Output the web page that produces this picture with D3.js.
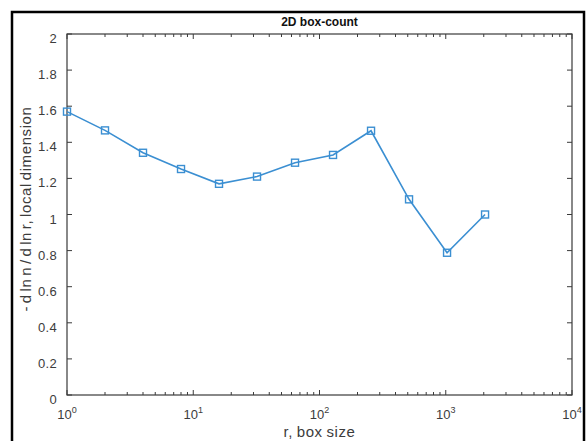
<!DOCTYPE html>
<html>
<head>
<meta charset="utf-8">
<script src="https://cdn.jsdelivr.net/npm/d3@7"></script>
<style>
  body { margin: 0; background: #fff; }
  text { font-family: "Liberation Sans", Arial, sans-serif; }
</style>
</head>
<body>
<div id="chart"></div>
<script>
// data
var boxSize = [1, 2, 4, 8, 16, 32, 64, 128, 256, 512, 1024, 2048];
var localDim = [1.57, 1.466, 1.342, 1.252, 1.17, 1.21, 1.287, 1.33, 1.464, 1.084, 0.788, 1.0];
var yTicks = [0, 0.2, 0.4, 0.6, 0.8, 1, 1.2, 1.4, 1.6, 1.8, 2];
var xDecades = [0, 1, 2, 3, 4];

var W = 586, H = 441;
// plot box (avoid "top", it clashes with window.top)
var pL = 67, pR = 572, pT = 34, pB = 395;
var axisColor = "#3a3a3a";
var textColor = "#3c3c3c";
var lineColor = "#3b8fd2";

var svg = d3.select("#chart").append("svg").attr("width", W).attr("height", H);

// outer frame
svg.append("rect")
    .attr("x", 12).attr("y", 12)
    .attr("width", 572).attr("height", 460)
    .attr("fill", "none").attr("stroke", "#000").attr("stroke-width", 2.5);

var x = d3.scaleLog().domain([1, 10000]).range([pL, pR]);
var y = d3.scaleLinear().domain([0, 2]).range([pB, pT]);

// axes box
svg.append("rect")
    .attr("x", pL).attr("y", pT)
    .attr("width", pR - pL).attr("height", pB - pT)
    .attr("fill", "none").attr("stroke", axisColor).attr("stroke-width", 1.2);

// y ticks inward, left and right
var majorLen = 5, minorLen = 3;
svg.append("g").selectAll("line").data(yTicks).enter().append("line")
    .attr("x1", pL).attr("x2", pL + majorLen)
    .attr("y1", d => y(d)).attr("y2", d => y(d))
    .attr("stroke", axisColor);
svg.append("g").selectAll("line").data(yTicks).enter().append("line")
    .attr("x1", pR).attr("x2", pR - majorLen)
    .attr("y1", d => y(d)).attr("y2", d => y(d))
    .attr("stroke", axisColor);
svg.append("g").selectAll("text").data(yTicks).enter().append("text")
    .attr("x", pL - 10).attr("y", d => y(d) + 9)
    .attr("text-anchor", "end")
    .attr("font-size", 13).attr("letter-spacing", 0.3).attr("fill", textColor)
    .text(d => d3.format("~g")(d));

// x ticks: major decades plus minor
var xMinor = [];
for (var e = 0; e < 4; e++) for (var m = 2; m <= 9; m++) xMinor.push(m * Math.pow(10, e));
var xMajor = xDecades.map(d => Math.pow(10, d));

[[xMajor, majorLen], [xMinor, minorLen]].forEach(function (p) {
    svg.append("g").selectAll("line").data(p[0]).enter().append("line")
        .attr("x1", d => x(d)).attr("x2", d => x(d))
        .attr("y1", pB).attr("y2", pB - p[1])
        .attr("stroke", axisColor);
    svg.append("g").selectAll("line").data(p[0]).enter().append("line")
        .attr("x1", d => x(d)).attr("x2", d => x(d))
        .attr("y1", pT).attr("y2", pT + p[1])
        .attr("stroke", axisColor);
});

var xl = svg.append("g").selectAll("text").data(xDecades).enter().append("text")
    .attr("x", d => x(Math.pow(10, d)))
    .attr("y", 419)
    .attr("text-anchor", "middle")
    .attr("font-size", 13).attr("fill", textColor);
xl.append("tspan").text("10");
xl.append("tspan").attr("dy", -6).attr("font-size", 9).text(d => d);

// titles
svg.append("text")
    .attr("x", (pL + pR) / 2).attr("y", 26)
    .attr("text-anchor", "middle")
    .attr("font-size", 12).attr("font-weight", "bold").attr("fill", "#111")
    .text("2D box-count");
svg.append("text")
    .attr("x", (pL + pR) / 2).attr("y", 437)
    .attr("text-anchor", "middle")
    .attr("font-size", 15).attr("letter-spacing", 0.6).attr("word-spacing", -1)
    .attr("fill", textColor)
    .text("r, box size");
svg.append("text")
    .attr("transform", "translate(31,209) rotate(-90)")
    .attr("text-anchor", "middle")
    .attr("font-size", 15).attr("letter-spacing", 0.6).attr("word-spacing", -2)
    .attr("fill", textColor)
    .text("- d ln n / d ln r, local dimension");

// series
var pts = boxSize.map((b, i) => [b, localDim[i]]);
svg.append("path")
    .datum(pts)
    .attr("fill", "none").attr("stroke", lineColor).attr("stroke-width", 1.6)
    .attr("d", d3.line().x(d => x(d[0])).y(d => y(d[1])));
svg.append("g").selectAll("rect").data(pts).enter().append("rect")
    .attr("x", d => x(d[0]) - 3.5).attr("y", d => y(d[1]) - 3.5)
    .attr("width", 7).attr("height", 7)
    .attr("fill", "none").attr("stroke", lineColor).attr("stroke-width", 1.4);
</script>
</body>
</html>
